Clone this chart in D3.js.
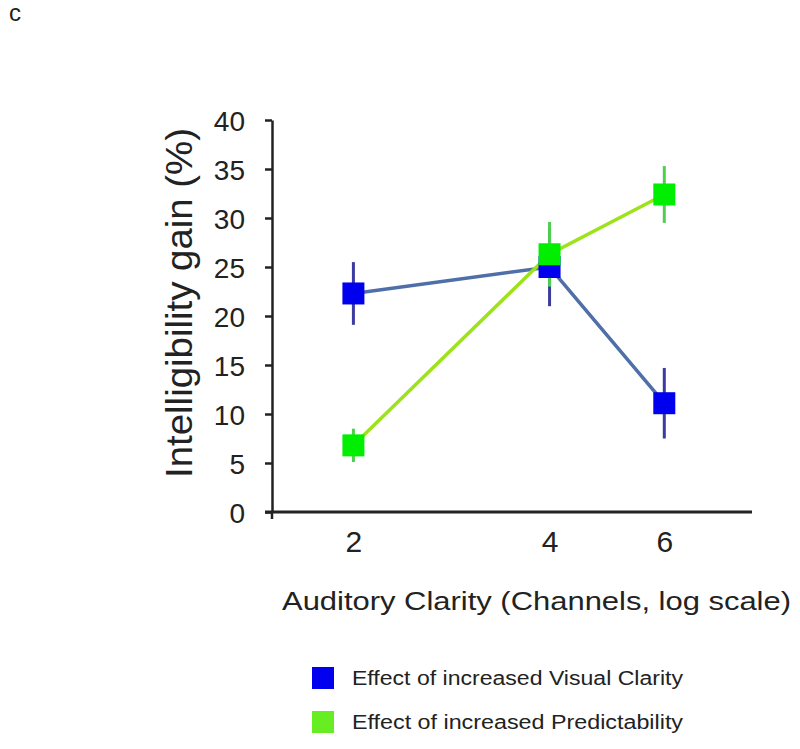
<!DOCTYPE html>
<html>
<head>
<meta charset="utf-8">
<script src="https://cdn.jsdelivr.net/npm/d3@7"></script>
<style>
  html, body { margin: 0; padding: 0; background: #fff; }
  text { font-family: "Liberation Sans", Arial, Helvetica, sans-serif; fill: #222; }
</style>
</head>
<body>
<svg id="chart" width="800" height="749"></svg>
<script>
// ---- data ----
const channels = [2, 4, 6];
const xTickLabels = ["2", "4", "6"];
const yTickValues = [0, 5, 10, 15, 20, 25, 30, 35, 40];
const visualGain = [22.3, 25.0, 11.1];
const visualErr = [3.2, 4.0, 3.6];
const predictGain = [6.8, 26.3, 32.4];
const predictErr = [1.7, 3.3, 2.9];
const seriesNames = ["Effect of increased Visual Clarity", "Effect of increased Predictability"];

const svg = d3.select("#chart");

const x = d3.scaleLog().domain([1.5, 8.18]).range([272, 752]);
const y = d3.scaleLinear().domain([0, 40]).range([512, 120]);

// panel letter
svg.append("text").attr("x", 9).attr("y", 21).attr("font-size", 24).attr("fill", "#222").text("c");

// y axis
const yAxis = svg.append("g").attr("transform", "translate(272,0)")
  .call(d3.axisLeft(y).tickValues(yTickValues).tickSize(7).tickPadding(20).tickSizeOuter(0));
yAxis.select(".domain").attr("stroke", "#222").attr("stroke-width", 2.5);
yAxis.selectAll(".tick line").attr("stroke", "#222").attr("stroke-width", 2.5);
yAxis.selectAll(".tick text").attr("font-size", 28).attr("fill", "#222")
  .attr("font-family", "Liberation Sans, Arial, sans-serif").attr("dy", "0.36em");
// axis extends slightly below origin
svg.append("line").attr("x1", 272).attr("x2", 272).attr("y1", y(0)).attr("y2", y(0) + 7)
  .attr("stroke", "#222").attr("stroke-width", 2.5);

// x axis
const xAxis = svg.append("g").attr("transform", `translate(0,${y(0)})`)
  .call(d3.axisBottom(x).tickValues(channels).tickFormat((d, i) => xTickLabels[i]).tickSize(0).tickPadding(19).tickSizeOuter(0));
xAxis.select(".domain").attr("stroke", "#222").attr("stroke-width", 3)
  .attr("d", `M${x.range()[0] - 7},0H${x.range()[1]}`);
xAxis.selectAll(".tick text").attr("font-size", 30).attr("fill", "#222")
  .attr("font-family", "Liberation Sans, Arial, sans-serif").attr("dy", "0.71em");

// axis titles
svg.append("text")
  .attr("transform", "translate(192,303) rotate(-90)")
  .attr("text-anchor", "middle").attr("font-size", 36)
  .attr("textLength", 350).attr("lengthAdjust", "spacingAndGlyphs")
  .text("Intelligibility gain (%)");
svg.append("text")
  .attr("x", 282).attr("y", 610).attr("font-size", 26)
  .attr("textLength", 509).attr("lengthAdjust", "spacingAndGlyphs")
  .text("Auditory Clarity (Channels, log scale)");

// series
const series = [
  { vals: visualGain, err: visualErr, line: "#4f6fa8", bar: "#3b3ba0", fill: "#0000ee" },
  { vals: predictGain, err: predictErr, line: "#9de21a", bar: "#4fcf4f", fill: "#00ee00" }
];

const lineGen = d3.line().x((d, i) => x(channels[i])).y(d => y(d));
series.forEach(s => {
  svg.append("path").datum(s.vals).attr("d", lineGen)
    .attr("fill", "none").attr("stroke", s.line).attr("stroke-width", 3.5);
});

const sq = 22;
// error bars
series.forEach(s => {
  svg.append("g").selectAll("line").data(s.vals).join("line")
    .attr("x1", (d, i) => x(channels[i])).attr("x2", (d, i) => x(channels[i]))
    .attr("y1", (d, i) => y(d + s.err[i])).attr("y2", (d, i) => y(d - s.err[i]))
    .attr("stroke", s.bar).attr("stroke-width", 3);
});
// squares
series.forEach(s => {
  svg.append("g").selectAll("rect").data(s.vals).join("rect")
    .attr("x", (d, i) => x(channels[i]) - sq / 2).attr("y", d => y(d) - sq / 2)
    .attr("width", sq).attr("height", sq).attr("fill", s.fill);
});

// legend
const legendFills = ["#0000ee", "#66ee22"];
const lg = svg.append("g");
seriesNames.forEach((name, i) => {
  const yy = 678 + i * 44;
  lg.append("rect").attr("x", 312).attr("y", yy - 11).attr("width", 22).attr("height", 22)
    .attr("fill", legendFills[i]);
  lg.append("text").attr("x", 352).attr("y", yy + 7).attr("font-size", 20)
    .attr("textLength", 331).attr("lengthAdjust", "spacingAndGlyphs")
    .attr("fill", "#333").text(name);
});
</script>
</body>
</html>
